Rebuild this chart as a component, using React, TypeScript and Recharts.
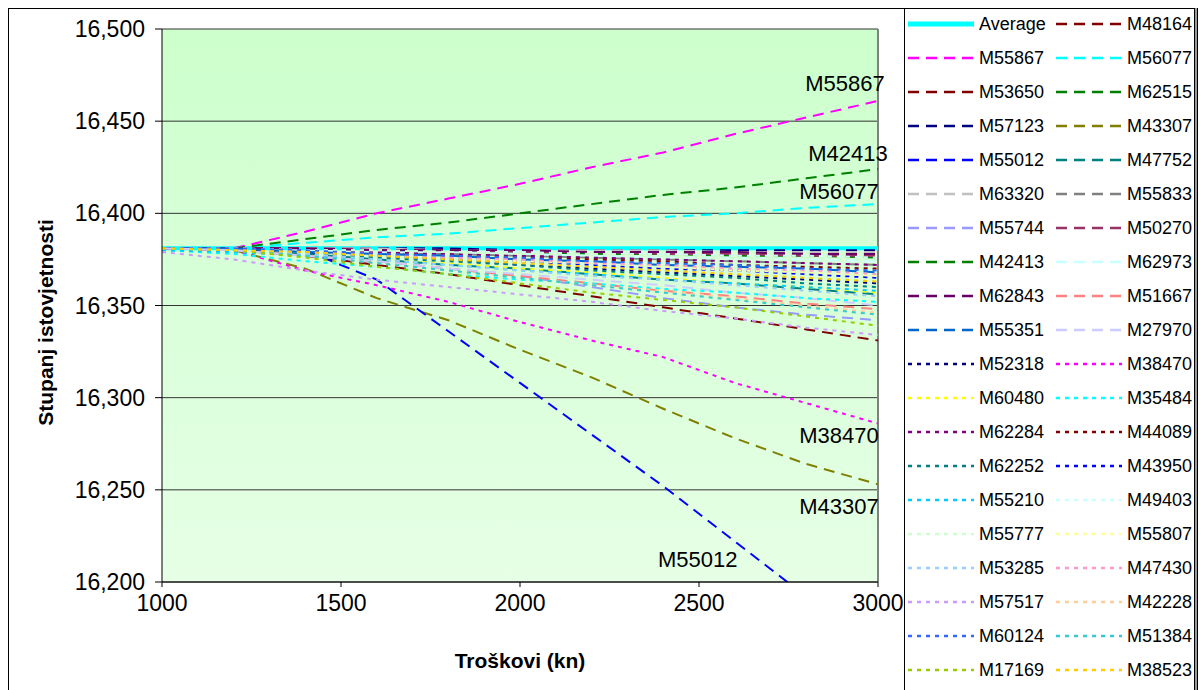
// Stupanj istovjetnosti vs. troškovi — fan of candidate lines around the average
import { CartesianGrid, Label, LabelList, Line, LineChart, ReferenceLine, XAxis, YAxis } from 'recharts'

// x values (kn)
const costs = [1000, 1200, 1400, 1600, 1800, 2000, 2200, 2400, 2600, 2800, 3000]
const xTicks = [1000, 1500, 2000, 2500, 3000]
const yTicks = [16200, 16250, 16300, 16350, 16400, 16450, 16500]

// series values, one per cost point
const average = [16381, 16381, 16381, 16381, 16381, 16381, 16381, 16381, 16381, 16381, 16381]
const m48164 = [16381, 16381, 16381, 16380, 16380, 16380, 16379, 16379, 16379, 16378, 16378]
const m55867 = [16381, 16381, 16390, 16400, 16408, 16416, 16425, 16433, 16443, 16452, 16461]
const m56077 = [16381, 16381, 16384, 16387, 16389, 16392, 16395, 16398, 16400, 16403, 16405]
const m53650 = [16381, 16381, 16377, 16372, 16367, 16361, 16355, 16349, 16343, 16337, 16331]
const m62515 = [16381, 16381, 16380, 16380, 16379, 16379, 16378, 16378, 16377, 16377, 16376]
const m57123 = [16381, 16381, 16381, 16381, 16381, 16380, 16380, 16380, 16380, 16380, 16380]
const m43307 = [16381, 16380, 16370, 16354, 16342, 16326, 16311, 16294, 16278, 16264, 16253]
const m55012 = [16381, 16381, 16380, 16364, 16336, 16308, 16280, 16252, 16222, 16192, 16162]
const m47752 = [16381, 16380, 16378, 16375, 16372, 16370, 16367, 16364, 16362, 16359, 16356]
const m63320 = [16381, 16381, 16381, 16381, 16380, 16380, 16380, 16380, 16379, 16379, 16379]
const m55833 = [16381, 16381, 16380, 16379, 16378, 16377, 16376, 16375, 16374, 16373, 16372]
const m55744 = [16381, 16380, 16377, 16374, 16370, 16366, 16360, 16354, 16349, 16345, 16342]
const m50270 = [16381, 16381, 16381, 16380, 16380, 16379, 16379, 16378, 16378, 16377, 16377]
const m42413 = [16381, 16381, 16386, 16391, 16395, 16400, 16405, 16410, 16414, 16419, 16424]
const m62973 = [16381, 16381, 16380, 16379, 16379, 16378, 16377, 16376, 16376, 16375, 16374]
const m62843 = [16381, 16381, 16381, 16380, 16380, 16380, 16379, 16379, 16379, 16378, 16378]
const m51667 = [16381, 16380, 16377, 16374, 16370, 16366, 16362, 16358, 16355, 16351, 16348]
const m55351 = [16381, 16381, 16379, 16378, 16377, 16375, 16374, 16372, 16371, 16370, 16368]
const m27970 = [16381, 16380, 16377, 16374, 16370, 16367, 16364, 16361, 16357, 16354, 16350]
const m52318 = [16381, 16380, 16379, 16377, 16375, 16372, 16370, 16368, 16366, 16364, 16362]
const m38470 = [16381, 16380, 16369, 16361, 16352, 16341, 16331, 16322, 16308, 16297, 16286]
const m60480 = [16381, 16380, 16378, 16375, 16373, 16370, 16368, 16365, 16362, 16360, 16357]
const m35484 = [16380, 16378, 16374, 16371, 16367, 16364, 16362, 16359, 16357, 16354, 16352]
const m62284 = [16381, 16381, 16380, 16379, 16378, 16377, 16376, 16375, 16374, 16373, 16372]
const m44089 = [16381, 16381, 16380, 16378, 16377, 16376, 16375, 16374, 16372, 16371, 16370]
const m62252 = [16381, 16380, 16379, 16376, 16374, 16372, 16369, 16367, 16365, 16362, 16360]
const m43950 = [16381, 16381, 16379, 16377, 16376, 16374, 16372, 16370, 16369, 16367, 16365]
const m55210 = [16380, 16379, 16377, 16375, 16372, 16369, 16367, 16364, 16362, 16360, 16358]
const m49403 = [16381, 16381, 16380, 16380, 16379, 16379, 16378, 16378, 16377, 16377, 16376]
const m55777 = [16381, 16381, 16380, 16380, 16379, 16378, 16378, 16377, 16376, 16376, 16375]
const m55807 = [16381, 16381, 16379, 16377, 16376, 16374, 16373, 16371, 16369, 16368, 16366]
const m53285 = [16381, 16380, 16378, 16375, 16372, 16369, 16366, 16364, 16361, 16358, 16355]
const m47430 = [16381, 16381, 16379, 16378, 16376, 16375, 16373, 16372, 16370, 16369, 16367]
const m57517 = [16379, 16375, 16369, 16364, 16360, 16356, 16352, 16347, 16343, 16338, 16334]
const m42228 = [16381, 16380, 16377, 16373, 16369, 16365, 16361, 16358, 16354, 16350, 16346]
const m60124 = [16381, 16381, 16380, 16378, 16377, 16376, 16374, 16373, 16372, 16370, 16369]
const m51384 = [16381, 16380, 16377, 16373, 16369, 16365, 16361, 16357, 16353, 16349, 16345]
const m17169 = [16381, 16380, 16376, 16371, 16367, 16362, 16357, 16353, 16349, 16344, 16339]
const m38523 = [16381, 16380, 16379, 16377, 16375, 16373, 16371, 16369, 16367, 16365, 16363]

// legend order (read row by row, two columns)
const seriesNames = [
  'Average', 'M48164', 'M55867', 'M56077', 'M53650', 'M62515', 'M57123', 'M43307',
  'M55012', 'M47752', 'M63320', 'M55833', 'M55744', 'M50270', 'M42413', 'M62973',
  'M62843', 'M51667', 'M55351', 'M27970', 'M52318', 'M38470', 'M60480', 'M35484',
  'M62284', 'M44089', 'M62252', 'M43950', 'M55210', 'M49403', 'M55777', 'M55807',
  'M53285', 'M47430', 'M57517', 'M42228', 'M60124', 'M51384', 'M17169', 'M38523',
]
const seriesValues = [
  average, m48164, m55867, m56077, m53650, m62515, m57123, m43307,
  m55012, m47752, m63320, m55833, m55744, m50270, m42413, m62973,
  m62843, m51667, m55351, m27970, m52318, m38470, m60480, m35484,
  m62284, m44089, m62252, m43950, m55210, m49403, m55777, m55807,
  m53285, m47430, m57517, m42228, m60124, m51384, m17169, m38523,
]

const seriesColors = [
  '#00FFFF', '#800000', '#FF00FF', '#00FFFF', '#800000', '#008000', '#000080', '#808000',
  '#0000FF', '#008080', '#C0C0C0', '#808080', '#9999FF', '#993366', '#008000', '#CCFFFF',
  '#660066', '#FF8080', '#0066CC', '#CCCCFF', '#000080', '#FF00FF', '#FFFF00', '#00FFFF',
  '#800080', '#800000', '#008080', '#0000FF', '#00CCFF', '#CCFFFF', '#CCFFCC', '#FFFF99',
  '#99CCFF', '#FF99CC', '#CC99FF', '#FFCC99', '#3366FF', '#33CCCC', '#99CC00', '#FFCC00',
]

// first one solid, then 19 dashed, rest dotted
const dashFor = (i: number) => (i === 0 ? undefined : i < 20 ? '11 7' : '4 5')
const widthFor = (i: number) => (i === 0 ? 4 : 2)

// text labels attached to a point of a few series (index of point + offset)
const pointLabels: Record<string, { index: number; dx: number; dy: number }> = {
  M55867: { index: 10, dx: -33, dy: -17 },
  M42413: { index: 10, dx: -30, dy: -16 },
  M56077: { index: 10, dx: -39, dy: -13 },
  M38470: { index: 10, dx: -39, dy: 12 },
  M43307: { index: 10, dx: -39, dy: 22 },
  M55012: { index: 8, dx: -37, dy: 18 },
}

const chartData = costs.map((cost, i) => {
  const row: Record<string, number> = { cost }
  seriesNames.forEach((name, s) => {
    row[name] = seriesValues[s][i]
  })
  return row
})

const FONT = 'Arial, "Liberation Sans", sans-serif'

function makePointLabel(name: string) {
  const cfg = pointLabels[name]
  return (props: any) => {
    if (props.index !== cfg.index) return null
    const x = props.x ?? props.viewBox?.x
    const y = props.y ?? props.viewBox?.y
    return (
      <text
        x={x + cfg.dx}
        y={y + cfg.dy}
        textAnchor="middle"
        dominantBaseline="central"
        fontSize={22}
        fill="#000"
        fontFamily={FONT}
      >
        {name}
      </text>
    )
  }
}

const XTitle = (props: any) => {
  const { x, y, width } = props.viewBox
  return (
    <text x={x + width / 2} y={y + 78} textAnchor="middle" dominantBaseline="central"
      fontSize={21} fontWeight="bold" fill="#000" fontFamily={FONT}>
      Troškovi (kn)
    </text>
  )
}

const YTitle = (props: any) => {
  const { y, height } = props.viewBox
  const cx = 37
  const cy = y + height / 2 + 17
  return (
    <text x={cx} y={cy} transform={`rotate(-90, ${cx}, ${cy})`} textAnchor="middle"
      dominantBaseline="central" fontSize={21} fontWeight="bold" fill="#000" fontFamily={FONT}>
      Stupanj istovjetnosti
    </text>
  )
}

function LegendBox() {
  return (
    <div
      style={{
        position: 'absolute', left: 896, top: 0, width: 289, height: 700,
        border: '1px solid #000', background: '#fff', boxShadow: '2px 0 0 #999',
        fontFamily: FONT, fontSize: 18, color: '#000',
      }}
    >
      {seriesNames.map((name, i) => {
        const row = Math.floor(i / 2)
        const col = i % 2
        const cy = 15 + row * 34
        const left = col === 0 ? 3 : 151
        return (
          <div key={name} style={{ position: 'absolute', left, top: cy - 12, height: 24, display: 'flex', alignItems: 'center' }}>
            <svg width={66} height={24} style={{ display: 'block' }}>
              <line x1={0} x2={66} y1={12} y2={12} stroke={seriesColors[i]}
                strokeWidth={i === 0 ? 5 : 2.5} strokeDasharray={dashFor(i)} strokeLinecap={i === 0 ? 'round' : 'butt'} />
            </svg>
            <span style={{ marginLeft: 5, lineHeight: '24px' }}>{name}</span>
          </div>
        )
      })}
    </div>
  )
}

export default function App() {
  return (
    <div style={{ position: 'absolute', left: 8, top: 8, width: 1190, height: 682, overflow: 'hidden', background: '#fff' }}>
      <div style={{ position: 'absolute', left: 0, top: 0, width: 1188, height: 700, border: '1px solid #000' }} />
      <div style={{ position: 'absolute', left: 0, top: 0 }}>
        <LineChart width={896} height={674} data={chartData}
          margin={{ top: 21, right: 26, bottom: 0, left: 0 }} style={{ fontFamily: FONT }}>
          <defs>
            <linearGradient id="plotBg" x1="0" y1="0" x2="0" y2="1">
              <stop offset="0%" stopColor="#CCFFCC" />
              <stop offset="100%" stopColor="#E6FFE6" />
            </linearGradient>
          </defs>
          <CartesianGrid vertical={false} stroke="#333" strokeWidth={1} fill="url(#plotBg)" fillOpacity={1} />
          <XAxis type="number" dataKey="cost" domain={[1000, 3000]} ticks={xTicks} interval={0}
            tickSize={5} tickMargin={8} height={100}
            axisLine={{ stroke: '#000' }} tickLine={{ stroke: '#000' }}
            tick={{ fontSize: 23, fill: '#000' }}>
            <Label content={XTitle} />
          </XAxis>
          <YAxis domain={[16200, 16500]} ticks={yTicks} allowDataOverflow width={154}
            tickSize={7} tickMargin={10} interval={0}
            tickFormatter={(v: number) => v.toLocaleString('en-US')}
            axisLine={{ stroke: '#000' }} tickLine={{ stroke: '#000' }}
            tick={{ fontSize: 23, fill: '#000' }}>
            <Label content={YTitle} />
          </YAxis>
          <ReferenceLine x={3000} stroke="#808080" strokeWidth={2} />
          {seriesNames.map((name, i) => (
            <Line key={name} type="linear" dataKey={name} stroke={seriesColors[i]}
              strokeWidth={widthFor(i)} strokeDasharray={dashFor(i)}
              dot={false} activeDot={false} isAnimationActive={false}>
              {pointLabels[name] && <LabelList dataKey={name} content={makePointLabel(name)} />}
            </Line>
          ))}
        </LineChart>
      </div>
      <LegendBox />
    </div>
  )
}
